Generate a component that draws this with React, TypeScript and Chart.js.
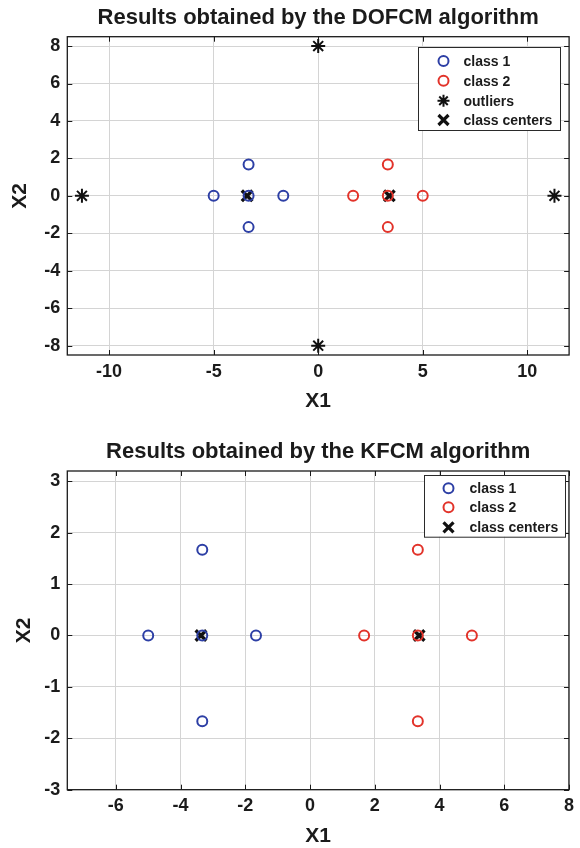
import React, { useEffect, useRef } from "react";
import { Chart, registerables } from "chart.js";

Chart.register(...registerables);

// ---- data: chart 1 (DOFCM)
const dofcmClass1X = [-5, -3.33, -3.33, -3.33, -1.67];
const dofcmClass1Y = [0, 1.67, 0, -1.67, 0];
const dofcmClass2X = [1.67, 3.33, 3.33, 3.33, 5];
const dofcmClass2Y = [0, 1.67, 0, -1.67, 0];
const dofcmOutliersX = [0, 0, -11.3, 11.3];
const dofcmOutliersY = [8, -8, 0, 0];
const dofcmCentersX = [-3.4, 3.4];
const dofcmCentersY = [0, 0];
const dofcmXTicks = [-10, -5, 0, 5, 10];
const dofcmYTicks = [-8, -6, -4, -2, 0, 2, 4, 6, 8];

// ---- data: chart 2 (KFCM)
const kfcmClass1X = [-5, -3.33, -3.33, -3.33, -1.67];
const kfcmClass1Y = [0, 1.67, 0, -1.67, 0];
const kfcmClass2X = [1.67, 3.33, 3.33, 3.33, 5];
const kfcmClass2Y = [0, 1.67, 0, -1.67, 0];
const kfcmCentersX = [-3.37, 3.37];
const kfcmCentersY = [0, 0];
const kfcmXTicks = [-6, -4, -2, 0, 2, 4, 6, 8];
const kfcmYTicks = [-3, -2, -1, 0, 1, 2, 3];

const FONT = "'Liberation Sans', Arial, sans-serif";
const TEXT = "#1b1b1b";
const BLUE = "#2d3fa5";
const RED = "#e2332a";

const pts = (xs: number[], ys: number[]) => xs.map((x, i) => ({ x, y: ys[i] }));

type Cfg = {
  title: string;
  titleY: number;
  xlabelY: number;
  ylabelX: number;
  padTop: number;
  xHeight: number;
  xMin: number; xMax: number; yMin: number; yMax: number;
  xTicks: number[]; yTicks: number[];
  datasets: any[];
  legend: { left: number; top: number; right: number; bottom: number; rowY: number[]; markerX: number; textX: number };
};

function drawMarker(ctx: CanvasRenderingContext2D, style: string, x: number, y: number, color: string) {
  ctx.save();
  ctx.strokeStyle = color;
  ctx.lineCap = "butt";
  if (style === "circle") {
    ctx.lineWidth = 2;
    ctx.beginPath();
    ctx.arc(x, y, 5, 0, Math.PI * 2);
    ctx.stroke();
  } else if (style === "star") {
    ctx.lineWidth = 2;
    const r = 6;
    ctx.beginPath();
    for (let k = 0; k < 4; k++) {
      const a = (k * Math.PI) / 4;
      ctx.moveTo(x - r * Math.cos(a), y - r * Math.sin(a));
      ctx.lineTo(x + r * Math.cos(a), y + r * Math.sin(a));
    }
    ctx.stroke();
  } else {
    ctx.lineWidth = 3.2;
    const r = 5;
    ctx.beginPath();
    ctx.moveTo(x - r, y - r); ctx.lineTo(x + r, y + r);
    ctx.moveTo(x - r, y + r); ctx.lineTo(x + r, y - r);
    ctx.stroke();
  }
  ctx.restore();
}

function ScatterPanel({ cfg }: { cfg: Cfg }) {
  const ref = useRef<HTMLCanvasElement>(null);
  useEffect(() => {
    const deco = {
      id: "deco",
      afterDraw(chart: any) {
        const { ctx, chartArea: a, scales } = chart;
        ctx.save();
        // inward tick marks on all four sides
        ctx.strokeStyle = "#1a1a1a";
        ctx.lineWidth = 1;
        ctx.beginPath();
        cfg.xTicks.forEach((v) => {
          const px = Math.round(scales.x.getPixelForValue(v)) + 0.5;
          ctx.moveTo(px, a.bottom); ctx.lineTo(px, a.bottom - 5);
          ctx.moveTo(px, a.top); ctx.lineTo(px, a.top + 5);
        });
        cfg.yTicks.forEach((v) => {
          const py = Math.round(scales.y.getPixelForValue(v)) + 0.5;
          ctx.moveTo(a.left, py); ctx.lineTo(a.left + 5, py);
          ctx.moveTo(a.right, py); ctx.lineTo(a.right - 5, py);
        });
        ctx.stroke();
        // box
        ctx.strokeStyle = "#1a1a1a";
        ctx.lineWidth = 1.3;
        ctx.strokeRect(a.left, a.top, a.right - a.left, a.bottom - a.top);
        // title
        ctx.fillStyle = TEXT;
        ctx.textAlign = "center";
        ctx.textBaseline = "middle";
        ctx.font = `bold 22px ${FONT}`;
        const cx = (a.left + a.right) / 2;
        ctx.fillText(cfg.title, cx, cfg.titleY);
        // axis titles
        ctx.font = `bold 21px ${FONT}`;
        ctx.fillText("X1", cx, cfg.xlabelY);
        ctx.save();
        ctx.translate(cfg.ylabelX, (a.top + a.bottom) / 2);
        ctx.rotate(-Math.PI / 2);
        ctx.fillText("X2", 0, 0);
        ctx.restore();
        // legend
        const L = cfg.legend;
        ctx.fillStyle = "#ffffff";
        ctx.fillRect(L.left, L.top, L.right - L.left, L.bottom - L.top);
        ctx.strokeStyle = "#2a2a2a";
        ctx.lineWidth = 1;
        ctx.strokeRect(L.left + 0.5, L.top + 0.5, L.right - L.left, L.bottom - L.top);
        ctx.font = `bold 14px ${FONT}`;
        ctx.textAlign = "left";
        chart.data.datasets.forEach((ds: any, i: number) => {
          const y = L.rowY[i];
          drawMarker(ctx, ds.pointStyle, L.markerX, y, ds.borderColor);
          ctx.fillStyle = TEXT;
          ctx.fillText(ds.label, L.textX, y + 1);
        });
        ctx.restore();
      },
    };

    const chart = new Chart(ref.current!, {
      type: "scatter",
      data: { datasets: cfg.datasets },
      options: {
        responsive: false,
        animation: false,
        devicePixelRatio: 1,
        layout: { padding: { left: 0, right: 8.7, top: cfg.padTop, bottom: 0 } },
        plugins: { legend: { display: false }, tooltip: { enabled: false }, title: { display: false } },
        scales: {
          x: {
            type: "linear",
            min: cfg.xMin,
            max: cfg.xMax,
            afterBuildTicks: (s: any) => { s.ticks = cfg.xTicks.map((v) => ({ value: v })); },
            afterFit: (s: any) => { s.height = cfg.xHeight; },
            ticks: { font: { family: FONT, size: 18, weight: "bold" }, color: TEXT, padding: 6, maxRotation: 0, autoSkip: false },
            grid: { color: "#d4d4d4", lineWidth: 1, drawTicks: false },
            border: { display: false },
          },
          y: {
            type: "linear",
            min: cfg.yMin,
            max: cfg.yMax,
            afterBuildTicks: (s: any) => { s.ticks = cfg.yTicks.map((v) => ({ value: v })); },
            afterFit: (s: any) => { s.width = 67.3; },
            ticks: { font: { family: FONT, size: 18, weight: "bold" }, color: TEXT, padding: 7, autoSkip: false },
            grid: { color: "#d4d4d4", lineWidth: 1, drawTicks: false },
            border: { display: false },
          },
        },
      },
      plugins: [deco],
    } as any);
    return () => chart.destroy();
  }, [cfg]);
  return <canvas ref={ref} width={580} height={424} style={{ display: "block", width: 580, height: 424 }} />;
}

const circleDs = (label: string, data: any[], color: string) => ({
  label, data, pointStyle: "circle", borderColor: color, backgroundColor: "rgba(0,0,0,0)",
  pointRadius: 5, pointBorderWidth: 2, showLine: false,
});
const starDs = (label: string, data: any[]) => ({
  label, data, pointStyle: "star", borderColor: "#111", backgroundColor: "#111",
  pointRadius: 7, pointBorderWidth: 2, showLine: false,
});
const crossDs = (label: string, data: any[]) => ({
  label, data, pointStyle: "crossRot", borderColor: "#111", backgroundColor: "#111",
  pointRadius: 7.5, pointBorderWidth: 3.4, showLine: false,
});

const cfgTop: Cfg = {
  title: "Results obtained by the DOFCM algorithm",
  titleY: 18,
  xlabelY: 401,
  ylabelX: 20,
  padTop: 36.7,
  xHeight: 69,
  xMin: -12, xMax: 12, yMin: -8.5, yMax: 8.5,
  xTicks: dofcmXTicks, yTicks: dofcmYTicks,
  datasets: [
    circleDs("class 1", pts(dofcmClass1X, dofcmClass1Y), BLUE),
    circleDs("class 2", pts(dofcmClass2X, dofcmClass2Y), RED),
    starDs("outliers", pts(dofcmOutliersX, dofcmOutliersY)),
    crossDs("class centers", pts(dofcmCentersX, dofcmCentersY)),
  ],
  legend: { left: 418, top: 47, right: 560, bottom: 130, rowY: [61, 80.7, 100.7, 120], markerX: 443.5, textX: 463.5 },
};

const cfgBottom: Cfg = {
  title: "Results obtained by the KFCM algorithm",
  titleY: 28,
  xlabelY: 412,
  ylabelX: 24,
  padTop: 47,
  xHeight: 58.3,
  xMin: -7.5, xMax: 8, yMin: -3, yMax: 3.2,
  xTicks: kfcmXTicks, yTicks: kfcmYTicks,
  datasets: [
    circleDs("class 1", pts(kfcmClass1X, kfcmClass1Y), BLUE),
    circleDs("class 2", pts(kfcmClass2X, kfcmClass2Y), RED),
    crossDs("class centers", pts(kfcmCentersX, kfcmCentersY)),
  ],
  legend: { left: 424, top: 51, right: 565, bottom: 112.7, rowY: [64.3, 83.3, 103.3], markerX: 448.5, textX: 469.5 },
};

export default function App() {
  return (
    <div style={{ position: "absolute", left: 0, top: 0, width: 580, height: 848, background: "#fff" }}>
      <ScatterPanel cfg={cfgTop} />
      <ScatterPanel cfg={cfgBottom} />
    </div>
  );
}
